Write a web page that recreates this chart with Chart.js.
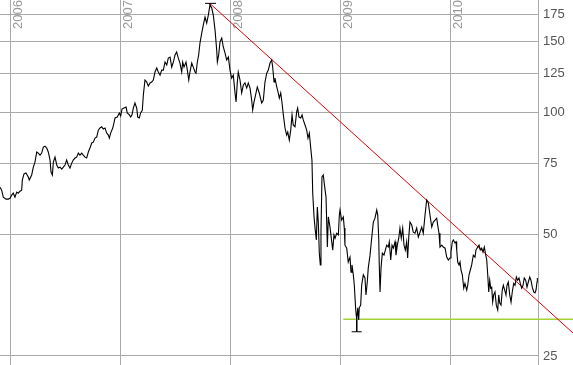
<!DOCTYPE html>
<html><head><meta charset="utf-8">
<script src="https://cdn.jsdelivr.net/npm/chart.js@4.4.1/dist/chart.umd.min.js"></script>
<style>html,body{margin:0;padding:0;background:#fff;} #wrap{position:relative;width:573px;height:365px;}</style>
</head><body><div id="wrap"><canvas id="c"></canvas></div>
<script>
// Decimal-year dates and closing prices
const dates = [
 2005.909,2005.924,2005.939,2005.964,2005.984,2006.000,2006.015,2006.030,2006.045,2006.061,
 2006.075,2006.091,2006.106,2006.112,2006.127,2006.145,2006.166,2006.175,2006.197,2006.212,
 2006.227,2006.243,2006.257,2006.273,2006.288,2006.303,2006.318,2006.334,2006.348,2006.364,
 2006.373,2006.385,2006.394,2006.409,2006.425,2006.439,2006.455,2006.470,2006.485,2006.500,
 2006.515,2006.530,2006.545,2006.561,2006.575,2006.591,2006.606,2006.621,2006.636,2006.652,
 2006.666,2006.682,2006.697,2006.712,2006.727,2006.743,2006.757,2006.773,2006.788,2006.803,
 2006.818,2006.834,2006.848,2006.864,2006.879,2006.894,2006.903,2006.915,2006.934,2006.945,
 2006.955,2006.975,2006.994,2007.006,2007.018,2007.036,2007.055,2007.066,2007.085,2007.097,
 2007.109,2007.121,2007.136,2007.152,2007.161,2007.175,2007.188,2007.203,2007.212,2007.227,
 2007.243,2007.257,2007.273,2007.288,2007.303,2007.318,2007.334,2007.348,2007.364,2007.379,
 2007.394,2007.409,2007.425,2007.439,2007.455,2007.470,2007.485,2007.500,2007.515,2007.530,
 2007.545,2007.561,2007.570,2007.582,2007.600,2007.612,2007.625,2007.636,2007.652,2007.666,
 2007.682,2007.691,2007.703,2007.715,2007.727,2007.743,2007.757,2007.773,2007.788,2007.803,
 2007.818,2007.834,2007.848,2007.864,2007.879,2007.885,2007.897,2007.909,2007.925,2007.939,2007.955,
 2007.970,2007.985,2008.000,2008.015,2008.030,2008.045,2008.055,2008.066,2008.075,2008.091,
 2008.106,2008.121,2008.136,2008.152,2008.166,2008.182,2008.197,2008.206,2008.218,2008.236,
 2008.248,2008.266,2008.288,2008.303,2008.318,2008.334,2008.348,2008.364,2008.379,2008.388,
 2008.400,2008.409,2008.425,2008.439,2008.448,2008.461,2008.473,2008.485,2008.500,2008.515,
 2008.525,2008.539,2008.552,2008.564,2008.575,2008.591,2008.606,2008.615,2008.627,2008.643,
 2008.655,2008.666,2008.682,2008.697,2008.709,2008.721,2008.734,2008.745,2008.752,2008.764,
 2008.775,2008.785,2008.794,2008.803,2008.812,2008.821,2008.827,2008.836,2008.848,2008.861,
 2008.873,2008.885,2008.894,
 2008.909,2008.925,2008.934,2008.945,2008.955,2008.970,2008.985,2008.994,2009.000,2009.015,
 2009.030,2009.039,2009.045,2009.061,2009.075,2009.091,2009.100,2009.109,2009.121,2009.130,
 2009.143,2009.152,2009.161,2009.170,2009.175,2009.188,2009.197,2009.212,2009.227,2009.236,
 2009.248,2009.257,2009.273,2009.288,2009.303,2009.318,2009.334,2009.343,2009.352,2009.357,
 2009.364,2009.373,2009.385,2009.400,2009.412,2009.425,2009.439,2009.448,2009.461,2009.473,
 2009.485,2009.500,2009.509,2009.521,2009.534,2009.545,2009.557,2009.570,2009.582,2009.594,
 2009.606,2009.615,2009.625,2009.636,2009.652,2009.666,2009.682,2009.697,2009.712,2009.727,
 2009.743,2009.757,2009.773,2009.788,2009.803,2009.818,2009.834,2009.848,
 2009.864,2009.879,2009.888,2009.900,2009.909,2009.925,2009.939,2009.955,2009.970,2009.985,
 2010.000,2010.009,2010.021,2010.030,2010.045,2010.055,2010.061,2010.070,2010.082,2010.091,
 2010.100,2010.112,2010.125,2010.136,2010.152,2010.161,2010.173,2010.185,2010.197,2010.212,
 2010.227,2010.236,2010.252,2010.264,2010.275,2010.288,2010.300,2010.312,2010.325,2010.334,
 2010.343,2010.352,2010.361,2010.370,2010.379,2010.388,2010.397,2010.409,2010.421,2010.434,
 2010.443,2010.452,2010.464,2010.475,2010.485,2010.497,2010.509,2010.518,2010.530,2010.543,
 2010.555,2010.566,2010.579,2010.591,2010.603,2010.615,2010.627,2010.639,2010.652,2010.664,
 2010.675,2010.688,2010.700,2010.712,2010.725,2010.736,2010.748,2010.761,2010.773,2010.782,2010.791,2010.794
];
const prices = [
 65.4,64.3,61.8,61.1,61.1,61.4,62.5,63.2,61.8,63.6,
 63.2,63.9,64.3,68.1,70.5,70.9,69.3,68.1,70.1,73.3,
 75.4,79.9,79.4,78.5,79.4,82.2,82.6,81.7,79.9,76.3,
 71.3,70.1,75.4,77.6,74.2,72.9,73.3,72.5,73.3,74.2,
 76.3,74.2,72.9,75.0,76.3,77.2,77.6,79.4,78.5,79.4,
 78.5,77.6,77.2,79.9,81.7,84.1,84.5,86.5,87.0,90.5,
 91.6,92.2,91.1,91.6,89.0,88.0,86.5,89.0,91.6,94.3,
 97.0,97.5,99.8,98.1,102.0,102.6,103.2,99.8,98.7,97.5,
 98.7,102.6,105.6,102.6,97.5,97.0,99.8,101.5,110.5,120.4,
 119.0,116.4,118.4,119.0,120.4,126.0,128.9,126.0,123.8,127.4,
 127.4,133.4,131.1,136.4,137.2,129.6,133.4,138.8,141.2,136.4,
 132.6,126.0,133.4,129.6,133.4,127.4,120.4,126.0,132.6,129.6,
 126.0,125.2,133.4,138.8,148.6,157.3,164.6,172.3,166.5,174.3,
 184.6,181.4,174.3,160.0,142.8,133.4,138.8,149.5,152.9,145.3,140.4,
 134.9,137.2,127.4,121.7,123.8,112.4,106.2,118.4,126.0,120.4,
 111.8,117.0,118.4,115.0,118.4,115.0,107.4,101.5,106.2,111.8,
 115.7,111.8,105.6,107.4,119.0,125.2,127.4,132.6,134.9,129.6,
 119.0,121.7,115.7,111.8,108.6,111.8,105.6,98.7,91.6,88.0,
 89.5,85.5,90.5,98.7,93.2,92.2,100.4,102.6,97.5,97.0,
 98.7,95.9,93.2,90.5,86.5,89.0,81.7,76.3,63.2,55.2,
 51.2,48.4,58.4,53.3,44.9,42.0,50.6,69.3,70.1,65.4,
 61.8,46.5,55.2,
 52.1,47.9,45.7,49.8,48.9,50.3,49.8,55.8,57.4,54.2,
 55.2,51.8,47.0,46.2,42.7,43.9,40.3,42.0,39.7,37.4,
 32.5,30.7,32.9,30.7,32.9,33.4,37.4,39.7,39.0,35.4,
 38.1,41.3,44.4,48.9,53.6,54.8,57.4,55.8,48.9,42.0,
 36.0,41.3,44.9,44.4,45.7,47.0,46.5,47.9,43.2,47.0,
 46.2,47.9,44.4,47.0,48.9,51.8,48.9,51.8,47.0,45.7,
 47.9,43.7,49.2,53.6,52.7,50.6,50.3,51.8,49.2,50.6,
 52.1,50.3,55.8,60.8,59.8,55.8,52.1,53.6,
 54.2,54.8,52.7,50.3,46.5,47.0,46.5,46.2,43.9,43.2,
 43.7,45.2,47.9,48.4,47.6,47.9,45.7,42.7,42.0,42.7,
 40.8,39.7,36.8,37.8,36.4,37.4,39.7,40.8,42.0,44.4,
 43.9,45.7,46.5,47.0,45.7,46.2,45.2,46.5,44.4,43.2,
 39.7,36.0,38.5,36.8,37.0,34.0,35.4,36.0,33.4,32.5,
 35.4,33.8,33.4,36.4,37.4,36.4,35.4,37.4,38.1,35.4,
 34.0,36.0,37.8,37.4,39.2,38.5,39.0,37.8,36.8,37.4,
 39.0,38.5,37.0,38.1,39.2,38.5,37.0,36.0,35.8,36.4,38.1,39.0
];
const yearTicks = [2006, 2007, 2008, 2009, 2010];
const priceTicks = [25, 50, 75, 100, 125, 150, 175];

// Resistance (red) and support (green) lines
const trendDates = [2007.818, 2011.118];
const trendPrices = [186.1, 28.5];
const supportDates = [2009.030, 2011.118];
const supportPrices = [30.8, 30.8];

// High / low markers
const highBarDates = [2007.773, 2007.873];
const highBarPrices = [186.3, 186.3];
const highStemDates = [2007.818, 2007.818];
const highStemPrices = [184.6, 186.3];
const lowBarDates = [2009.106, 2009.197];
const lowBarPrices = [28.7, 28.7];
const lowStemDates = [2009.152, 2009.152];
const lowStemPrices = [30.7, 28.7];

const pts = (xs, ys) => xs.map((x, i) => ({x: x, y: ys[i]}));
const FONT = '"Liberation Sans", Arial, sans-serif';

const yearLabels = {
  id: 'yearLabels',
  beforeDatasetsDraw(chart) {
    const xs = chart.scales.x, ctx = chart.ctx;
    ctx.save();
    ctx.fillStyle = '#999';
    ctx.font = '13px ' + FONT;
    ctx.textAlign = 'left';
    ctx.textBaseline = 'alphabetic';
    xs.ticks.forEach(t => {
      const px = xs.getPixelForValue(t.value);
      ctx.save();
      ctx.translate(px + 11.7, 29);
      ctx.rotate(-Math.PI / 2);
      ctx.fillText(String(t.value), 0, 0);
      ctx.restore();
    });
    ctx.restore();
  }
};

const line = (data, color, width, extra) => Object.assign({
  data: data, borderColor: color, borderWidth: width, pointRadius: 0,
  tension: 0, fill: false
}, extra || {});

new Chart(document.getElementById('c'), {
  type: 'line',
  data: {
    datasets: [
      line(pts(dates, prices), '#000', 1.1),
      line(pts(highBarDates, highBarPrices), '#000', 1, {clip: false}),
      line(pts(highStemDates, highStemPrices), '#000', 1, {clip: false}),
      line(pts(lowBarDates, lowBarPrices), '#000', 1, {clip: false}),
      line(pts(lowStemDates, lowStemPrices), '#000', 1, {clip: false}),
      line(pts(trendDates, trendPrices), '#e00000', 1, {clip: false}),
      line(pts(supportDates, supportPrices), '#a4d233', 1.5, {clip: false})
    ]
  },
  options: {
    responsive: true,
    maintainAspectRatio: false,
    animation: false,
    events: [],
    layout: {padding: 0},
    plugins: {legend: {display: false}, tooltip: {enabled: false}},
    scales: {
      x: {
        type: 'linear', min: 2005.909, max: 2010.8,
        afterBuildTicks: s => { s.ticks = yearTicks.map(v => ({value: v})); },
        afterFit: s => { s.height = 0; s.paddingLeft = 0; s.paddingRight = 0; },
        grid: {color: '#aaa', lineWidth: 1, drawTicks: false},
        border: {display: false},
        ticks: {display: false}
      },
      y: {
        type: 'logarithmic', position: 'right', min: 23.75, max: 189.9,
        afterBuildTicks: s => { s.ticks = priceTicks.map(v => ({value: v})); },
        afterFit: s => { s.width = 35; s.paddingTop = 0; s.paddingBottom = 0; },
        grid: {color: '#aaa', lineWidth: 1, drawTicks: false},
        border: {display: true, color: '#aaa', width: 1},
        ticks: {
          padding: 5, color: '#555', autoSkip: false,
          font: {size: 13, family: FONT},
          callback: v => String(v)
        }
      }
    }
  },
  plugins: [yearLabels]
});
</script>
</body></html>
